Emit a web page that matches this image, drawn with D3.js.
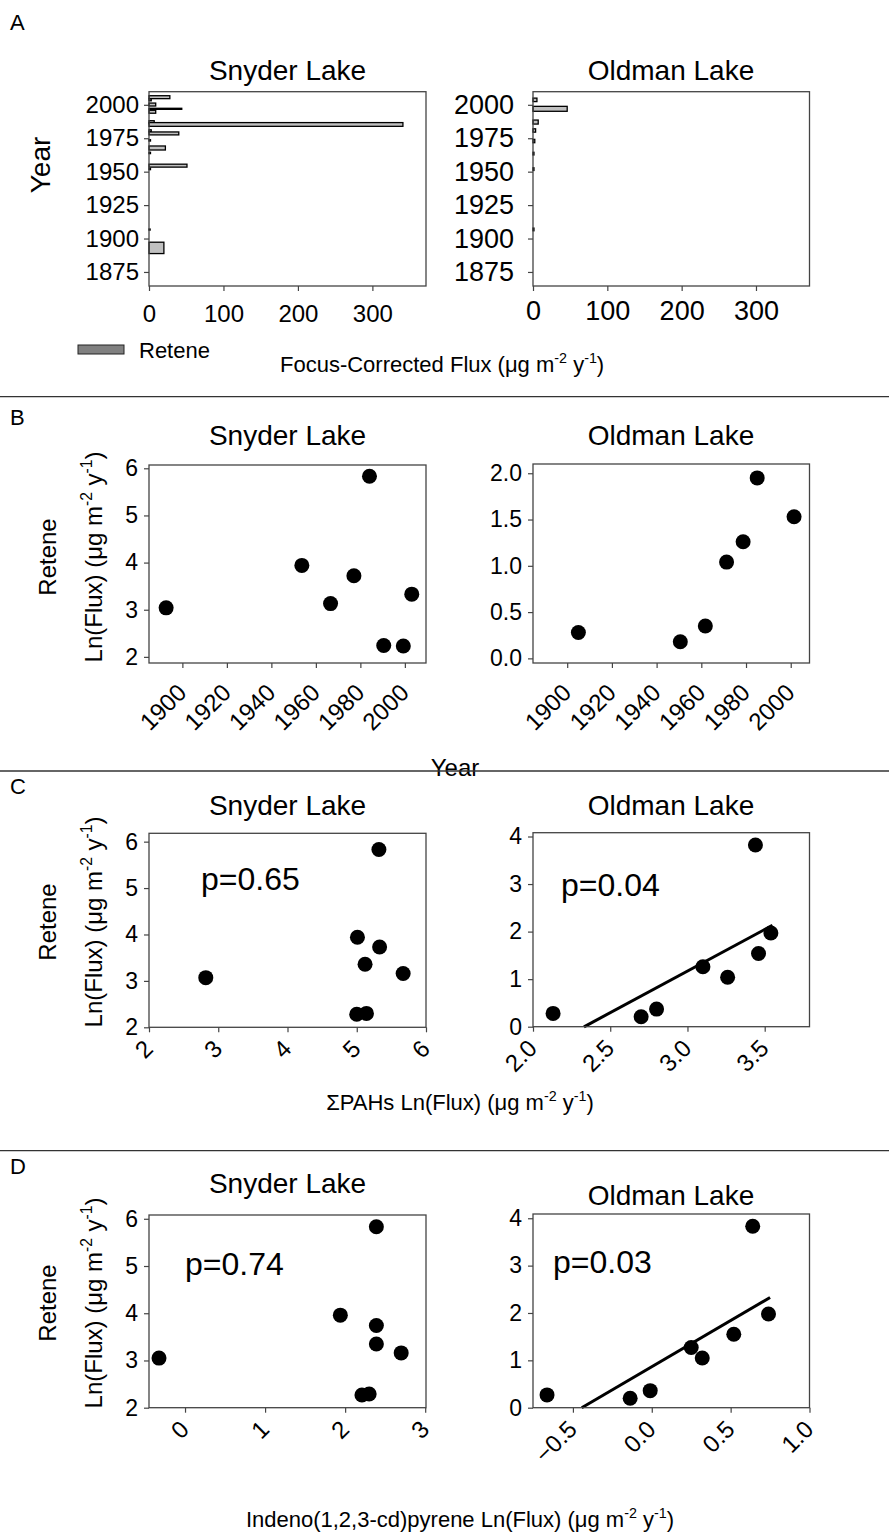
<!DOCTYPE html>
<html>
<head>
<meta charset="utf-8">
<script src="https://cdn.jsdelivr.net/npm/d3@7"></script>
<style>
  body { margin: 0; background: #fff; }
  text { font-family: "Liberation Sans", Arial, sans-serif; fill: #000; }
</style>
</head>
<body>
<div id="chart"></div>
<script>
// ---- Panel A: focus-corrected retene flux per sediment slice ----
// year = middle of slice, span = slice thickness (years), flux in ug m-2 y-1
const snyderBarYear = [2005.7, 2003.7, 2000.2, 1997, 1994.8, 1987, 1985.3, 1980.6, 1978.6, 1973.4, 1967.7, 1964, 1954.5, 1952, 1906.7, 1893];
const snyderBarSpan = [2.2, 1.4, 2.2, 0.8, 2.2, 2.2, 2.8, 1.4, 2.2, 1.0, 3.0, 1.0, 2.2, 1.0, 0.8, 8.5];
const snyderBarFlux = [28, 3, 9, 44, 9, 7, 341, 3, 40, 2, 22, 2, 51, 2, 1.5, 20];

const oldmanBarYear = [2003.7, 1997, 1987.1, 1980.8, 1972.9, 1963.5, 1951.9, 1906.8];
const oldmanBarSpan = [2.6, 3.7, 3.0, 2.5, 2.5, 2.0, 2.0, 2.0];
const oldmanBarFlux = [5.3, 46, 7, 3.5, 2.4, 1.3, 1.3, 1.3];

const barYearTicks = [1875, 1900, 1925, 1950, 1975, 2000];
const barFluxTicks = [0, 100, 200, 300];

// ---- Panel B: Ln(flux) of retene vs year ----
const snyderYear = [1892.7, 1953.7, 1966.6, 1977.1, 1984.1, 1990.5, 1999.3, 2003.1];
const snyderLnYear = [3.04, 3.94, 3.13, 3.72, 5.83, 2.24, 2.23, 3.33];
const oldmanYear = [1905, 1950.6, 1961.8, 1971.3, 1978.7, 1985, 2001.5];
const oldmanLnYear = [0.28, 0.18, 0.35, 1.04, 1.26, 1.95, 1.53];
const yearTicks = [1900, 1920, 1940, 1960, 1980, 2000];

// ---- Panel C: retene vs sum of PAHs ----
const snyderPahs = [2.82, 5.01, 5.33, 5.12, 5.67, 5.32, 5.0, 5.14];
const snyderLnPahs = [3.07, 3.94, 3.73, 3.36, 3.16, 5.83, 2.28, 2.30];
const oldmanPahs = [2.13, 2.70, 2.80, 3.10, 3.26, 3.44, 3.46, 3.54];
const oldmanLnPahs = [0.28, 0.21, 0.37, 1.26, 1.04, 3.82, 1.54, 1.97];
const oldmanPahsFit = { slope: 1.75, intercept: -4.08, from: 2.33, to: 3.55 };

// ---- Panel D: retene vs indeno(1,2,3-cd)pyrene ----
const snyderInd = [-0.325, 1.94, 2.39, 2.39, 2.39, 2.70, 2.21, 2.30];
const snyderLnInd = [3.05, 3.96, 5.83, 3.74, 3.35, 3.16, 2.27, 2.29];
const oldmanInd = [-0.664, -0.137, -0.01, 0.25, 0.32, 0.52, 0.64, 0.74];
const oldmanLnInd = [0.27, 0.20, 0.36, 1.27, 1.05, 1.55, 3.83, 1.98];
const oldmanIndFit = { slope: 1.95, intercept: 0.866, from: -0.444, to: 0.75 };

const frameColor = "#444";

const svg = d3.select("#chart")
  .append("svg")
  .attr("width", 889)
  .attr("height", 1539);

// column extents (pixels)
const snyderX = [149, 426];
const oldmanX = [533, 809.5];

// add text with "(ug m-2 y-1)" units, exponents as superscripts
function withUnits(sel, prefix, size) {
  const sup = size * 0.65, up = size * 0.4;
  sel.style("font-size", size + "px");
  sel.append("tspan").text(prefix + "(\u03bcg m");
  sel.append("tspan").attr("dy", -up).style("font-size", sup + "px").text("-2");
  sel.append("tspan").attr("dy", up).text(" y");
  sel.append("tspan").attr("dy", -up).style("font-size", sup + "px").text("-1");
  sel.append("tspan").attr("dy", up).text(")");
}

function styleAxis(g, size) {
  g.select(".domain").remove();
  g.selectAll(".tick line").attr("stroke", frameColor).attr("stroke-width", 1.2);
  g.attr("font-family", null).attr("font-size", null);
  g.selectAll("text").style("font-size", size + "px").attr("fill", "#000");
}

function frame(x0, x1, y0, y1) {
  svg.append("rect")
    .attr("x", x0).attr("y", y0)
    .attr("width", x1 - x0).attr("height", y1 - y0)
    .attr("fill", "none")
    .attr("stroke", frameColor)
    .attr("stroke-width", 1.3);
}

function title(x, y, txt) {
  svg.append("text")
    .attr("x", x).attr("y", y)
    .attr("text-anchor", "middle")
    .style("font-size", "28px")
    .text(txt);
}

// ---------------- Panel A ----------------
function barPanel(px, years, spans, flux, opt) {
  const top = 91.7, bottom = 286;
  const x = d3.scaleLinear().domain([0, 372]).range(px);
  const y = d3.scaleLinear().domain([1864.5, 2009.8]).range([bottom, top]);

  svg.append("g")
    .attr("transform", `translate(${px[0]},0)`)
    .call(d3.axisLeft(y).tickValues(barYearTicks).tickSize(5).tickPadding(opt.yPad).tickFormat(d3.format("d")))
    .call(g => styleAxis(g, opt.size));

  svg.append("g")
    .attr("transform", `translate(0,${bottom})`)
    .call(d3.axisBottom(x).tickValues(barFluxTicks).tickSize(5).tickPadding(opt.xPad))
    .call(g => styleAxis(g, opt.size));

  svg.append("g").selectAll("rect")
    .data(years)
    .enter()
    .append("rect")
    .attr("x", x(0))
    .attr("y", (d, i) => y(d + spans[i] / 2))
    .attr("width", (d, i) => x(flux[i]) - x(0))
    .attr("height", (d, i) => y(d - spans[i] / 2) - y(d + spans[i] / 2))
    .attr("fill", "#c0c0c0")
    .attr("stroke", "#000")
    .attr("stroke-width", 1.3);

  frame(px[0], px[1], top, bottom);
}

barPanel(snyderX, snyderBarYear, snyderBarSpan, snyderBarFlux, { size: 24, yPad: 5, xPad: 14 });
barPanel(oldmanX, oldmanBarYear, oldmanBarSpan, oldmanBarFlux, { size: 27, yPad: 14, xPad: 10 });

title(287.5, 80, "Snyder Lake");
title(671, 80, "Oldman Lake");

svg.append("text")
  .attr("transform", "translate(50,165) rotate(-90)")
  .attr("text-anchor", "middle")
  .style("font-size", "28px")
  .text("Year");

// legend
svg.append("rect")
  .attr("x", 78).attr("y", 345)
  .attr("width", 46).attr("height", 9)
  .attr("fill", "#808080")
  .attr("stroke", "#222");
svg.append("text")
  .attr("x", 139).attr("y", 358)
  .style("font-size", "22px")
  .text("Retene");

svg.append("text")
  .attr("x", 280).attr("y", 372)
  .call(withUnits, "Focus-Corrected Flux ", 22);

// ---------------- scatter panels ----------------
function scatterPanel(o) {
  const x = d3.scaleLinear().domain(o.xDomain).range(o.px);
  const y = d3.scaleLinear().domain(o.yDomain).range([o.bottom, o.top]);

  svg.append("g")
    .attr("transform", `translate(${o.px[0]},0)`)
    .call(d3.axisLeft(y).tickValues(o.yTicks).tickSize(5).tickPadding(6).tickFormat(o.yFmt))
    .call(g => styleAxis(g, 23));

  // rotated tick labels under the x axis
  svg.append("g")
    .attr("transform", `translate(0,${o.bottom})`)
    .call(d3.axisBottom(x).tickValues(o.xTicks).tickSize(5).tickFormat(o.xFmt))
    .call(g => styleAxis(g, 24))
    .call(g => g.selectAll(".tick text")
      .attr("x", 0).attr("y", 0).attr("dy", 0)
      .attr("text-anchor", "end")
      .attr("transform", `translate(5,${o.labelDrop}) rotate(-45)`));

  if (o.fit) {
    const f = o.fit;
    svg.append("line")
      .attr("x1", x(f.from)).attr("y1", y(f.slope * f.from + f.intercept))
      .attr("x2", x(f.to)).attr("y2", y(f.slope * f.to + f.intercept))
      .attr("stroke", "#000")
      .attr("stroke-width", 3);
  }

  svg.append("g").selectAll("circle")
    .data(o.xs)
    .enter()
    .append("circle")
    .attr("cx", d => x(d))
    .attr("cy", (d, i) => y(o.ys[i]))
    .attr("r", 7.5)
    .attr("fill", "#000");

  frame(o.px[0], o.px[1], o.top, o.bottom);

  if (o.p) {
    svg.append("text")
      .attr("x", o.p[0]).attr("y", o.p[1])
      .style("font-size", "32px")
      .text(o.p[2]);
  }
}

const fmtInt = d3.format("d");
const fmt1 = d3.format(".1f");

// B
scatterPanel({ px: snyderX, top: 465, bottom: 663, xDomain: [1885, 2009.5], yDomain: [1.87, 6.07],
  xs: snyderYear, ys: snyderLnYear, xTicks: yearTicks, yTicks: [2, 3, 4, 5, 6],
  xFmt: fmtInt, yFmt: fmtInt, labelDrop: 31 });
scatterPanel({ px: oldmanX, top: 464, bottom: 663, xDomain: [1884.7, 2008.4], yDomain: [-0.05, 2.1],
  xs: oldmanYear, ys: oldmanLnYear, xTicks: yearTicks, yTicks: [0, 0.5, 1, 1.5, 2],
  xFmt: fmtInt, yFmt: fmt1, labelDrop: 31 });

// C
scatterPanel({ px: snyderX, top: 833.3, bottom: 1027.3, xDomain: [2, 6], yDomain: [2, 6.18],
  xs: snyderPahs, ys: snyderLnPahs, xTicks: [2, 3, 4, 5, 6], yTicks: [2, 3, 4, 5, 6],
  xFmt: fmtInt, yFmt: fmtInt, labelDrop: 23, p: [201, 890, "p=0.65"] });
scatterPanel({ px: oldmanX, top: 832.7, bottom: 1026.7, xDomain: [2, 3.79], yDomain: [0, 4.08],
  xs: oldmanPahs, ys: oldmanLnPahs, xTicks: [2, 2.5, 3, 3.5], yTicks: [0, 1, 2, 3, 4],
  xFmt: fmt1, yFmt: fmtInt, labelDrop: 23, fit: oldmanPahsFit, p: [561, 896, "p=0.04"] });

// D
scatterPanel({ px: snyderX, top: 1215, bottom: 1407.7, xDomain: [-0.45, 3.01], yDomain: [2, 6.08],
  xs: snyderInd, ys: snyderLnInd, xTicks: [0, 1, 2, 3], yTicks: [2, 3, 4, 5, 6],
  xFmt: fmtInt, yFmt: fmtInt, labelDrop: 23, p: [185, 1275, "p=0.74"] });
scatterPanel({ px: oldmanX, top: 1214, bottom: 1407.7, xDomain: [-0.753, 1.0], yDomain: [0, 4.09],
  xs: oldmanInd, ys: oldmanLnInd, xTicks: [-0.5, 0, 0.5, 1], yTicks: [0, 1, 2, 3, 4],
  xFmt: fmt1, yFmt: fmtInt, labelDrop: 23, fit: oldmanIndFit, p: [553, 1273, "p=0.03"] });

title(287.5, 445, "Snyder Lake");
title(671, 445, "Oldman Lake");
title(287.5, 815, "Snyder Lake");
title(671, 815, "Oldman Lake");
title(287.5, 1193, "Snyder Lake");
title(671, 1205, "Oldman Lake");

// y-axis titles for B, C, D
[565, 930, 1311].forEach(cy => {
  svg.append("text")
    .attr("transform", `translate(56,${cy - 8}) rotate(-90)`)
    .attr("text-anchor", "middle")
    .style("font-size", "24px")
    .text("Retene");
  svg.append("text")
    .attr("transform", `translate(102,${cy - 8}) rotate(-90)`)
    .attr("text-anchor", "middle")
    .call(withUnits, "Ln(Flux) ", 24);
});

// x-axis titles
svg.append("text")
  .attr("x", 455).attr("y", 776)
  .attr("text-anchor", "middle")
  .style("font-size", "24px")
  .text("Year");

svg.append("text")
  .attr("x", 460).attr("y", 1110)
  .attr("text-anchor", "middle")
  .call(withUnits, "\u03a3PAHs Ln(Flux) ", 22);

svg.append("text")
  .attr("x", 460).attr("y", 1527)
  .attr("text-anchor", "middle")
  .call(withUnits, "Indeno(1,2,3-cd)pyrene Ln(Flux) ", 22);

// panel separators and letters
[396.7, 771, 1150.7].forEach(yy => {
  svg.append("line")
    .attr("x1", 0).attr("x2", 889)
    .attr("y1", yy).attr("y2", yy)
    .attr("stroke", "#333")
    .attr("stroke-width", 1.3);
});

[["A", 30], ["B", 425], ["C", 794], ["D", 1174]].forEach(l => {
  svg.append("text")
    .attr("x", 10).attr("y", l[1])
    .style("font-size", "22px")
    .text(l[0]);
});
</script>
</body>
</html>
